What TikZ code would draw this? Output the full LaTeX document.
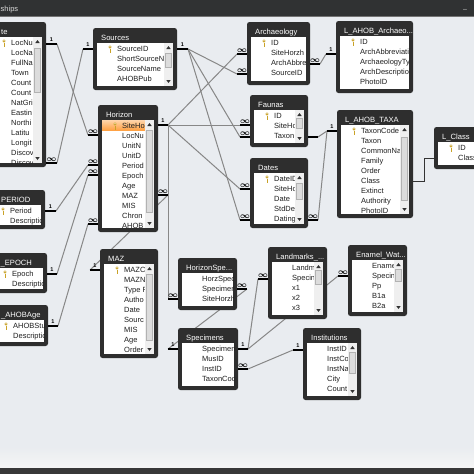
\documentclass[tikz,border=0pt]{standalone}
\usepackage{fontspec}
\setmainfont{Liberation Sans}
\usepackage{tikz}
\usetikzlibrary{calc}
\definecolor{canvas}{HTML}{E9ECF0}
\definecolor{winbar}{HTML}{303233}
\definecolor{framegray}{HTML}{2E2E2E}
\definecolor{linegray}{HTML}{878787}
\definecolor{keygold}{HTML}{C9A227}
\definecolor{trackgray}{HTML}{EFEFEF}
\definecolor{thumbgray}{HTML}{DCDCDC}
\tikzset{
  tabframe/.style={fill=framegray, rounded corners=2.5pt, inner sep=0pt, outer sep=0pt},
  tabtitle/.style={anchor=base west, inner sep=0pt, text=white, font=\fontsize{7.6}{8}\selectfont},
  fieldtxt/.style={anchor=base west, inner sep=0pt, text=black!88, font=\fontsize{7.5}{8}\selectfont},
  relline/.style={linegray, line width=1pt},
  relbar/.style={black, line width=1.8pt},
  relone/.style={midway, above=1.2pt, inner sep=0pt, font=\fontsize{5.5}{6}\selectfont\bfseries},
  relmany/.style={midway, above=0.4pt, inner sep=0pt, font=\fontsize{8.5}{8}\selectfont\boldmath},
  classline/.style={black!80, line width=0.9pt}
}
% table frame: [title offset] name, x, y, width, height, title
\newcommand{\dbframe}[6][8]{%
  \node[tabframe, minimum width=#5pt, minimum height=#6pt, anchor=north west] (#2) at (#3,#4) {};
  \fill[white] (#3+4,#4+15) rectangle (#3+#5-4,#4+#6-4);
  \node[tabtitle] (#2-title) at (#3+#1,#4+12.5) {\dbtitle};
}
\newcommand{\dbtitle}{}
% field list: name, x, y, width, height, fields
\newcommand{\dbfields}[6]{%
  \begin{scope}
    \clip (#2+4,#3+15) rectangle (#2+#4-4,#3+#5-4);
    \foreach \fname [count=\i] in {#6}
      \node[fieldtxt] (#1-\i) at (#2+24,#3+13.6+10*\i) {\fname};
  \end{scope}
}
% scroll bar: x, top, bottom, thumb top, thumb bottom
\newcommand{\vscroll}[5]{%
  \fill[trackgray] (#1,#2) rectangle (#1+9,#3);
  \filldraw[fill=thumbgray, draw=black!30, line width=0.4pt] (#1+1.5,#4) rectangle (#1+7.5,#5);
  \fill[black!80] (#1+2.3,#2+6) -- (#1+6.7,#2+6) -- (#1+4.5,#2+3) -- cycle;
  \fill[black!80] (#1+2.3,#3-6) -- (#1+6.7,#3-6) -- (#1+4.5,#3-3) -- cycle;
}
% primary key glyph in front of a field
\newcommand{\keyicon}[1]{%
  \begin{scope}[shift={([xshift=-7pt,yshift=2.6pt]#1.base west)}]
    \fill[keygold] (0,-2) circle (1.7pt);
    \fill[white] (0,-2.2) circle (0.6pt);
    \draw[keygold, line width=0.9pt] (0,-0.5) -- (0,3.5);
    \draw[keygold, line width=0.7pt] (0,2.6) -- (1.3,2.6);
  \end{scope}
}

\begin{document}
\begin{tikzpicture}[x=1pt,y=-1pt]
\useasboundingbox (0,0) rectangle (474,474);
\clip (0,0) rectangle (474,474);

% window
\fill[canvas] (0,0) rectangle (474,474);
\fill[winbar] (0,0) rectangle (474,16);
\draw[black!55, line width=0.8pt] (0,16) -- (474,16);
\node[anchor=base west, inner sep=0pt, text=white!85!black, font=\fontsize{7.5}{8}\selectfont] (wintitle) at (0.5,11) {ships};
\node[inner sep=0pt, text=white!80!black, font=\fontsize{7}{8}\selectfont] (winmin) at (465,10) {\textendash};
\shade[top color=canvas, bottom color=white!96!black] (0,447) rectangle (474,467);
\fill[black!78] (0,468) rectangle (474,474);

% ends of the relationship lines
\coordinate (siteA) at (57,44);
\coordinate (siteB) at (57,163);
\coordinate (srcA) at (83,49);
\coordinate (srcB) at (188,49);
\coordinate (horA) at (88,135);
\coordinate (horB) at (88,165);
\coordinate (horC) at (88,175);
\coordinate (horD) at (88,224);
\coordinate (horE) at (168,125);
\coordinate (horF) at (168,195);
\coordinate (perA) at (56,211);
\coordinate (epoA) at (57,274);
\coordinate (ageA) at (58,326);
\coordinate (mazA) at (90,270);
\coordinate (archA) at (237,54);
\coordinate (archB) at (237,74);
\coordinate (archC) at (320,64);
\coordinate (larchA) at (326,54);
\coordinate (fauA) at (240,125);
\coordinate (fauB) at (240,137);
\coordinate (fauC) at (318,137);
\coordinate (datA) at (240,189);
\coordinate (datB) at (240,220);
\coordinate (datC) at (318,220);
\coordinate (taxA) at (327,131);
\coordinate (clsbend) at (424,158);
\coordinate (hspA) at (168,299);
\coordinate (hspB) at (247,289);
\coordinate (speA) at (168,349);
\coordinate (speB) at (248,349);
\coordinate (speC) at (248,369);
\coordinate (lanA) at (258,279);
\coordinate (enaA) at (338,276);
\coordinate (insA) at (293,350);

% relationship lines (under the tables)
\draw[relline] (siteA) -- (horA);
\draw[relline] (srcA) -- (siteB);
\draw[relline] (perA) -- (horB);
\draw[relline] (epoA) -- (horC);
\draw[relline] (ageA) -- (horD);
\draw[relline] (srcB) -- (archB);
\draw[relline] (srcB) -- (fauB);
\draw[relline] (srcB) -- (datB);
\draw[relline] (horE) -- (archA);
\draw[relline] (horE) -- (fauA);
\draw[relline] (horE) -- (datA);
\draw[relline] (horE) -- (hspA);
\draw[relline] (horF) -- (mazA);
\draw[relline] (archC) -- (larchA);
\draw[relline] (fauC) -- (taxA);
\draw[relline] (datC) -- (taxA);
\draw[relline] (hspB) -- (speA);
\draw[relline] (speB) -- (lanA);
\draw[relline] (speB) -- (enaA);
\draw[relline] (speC) -- (insA);

% tables
\renewcommand{\dbtitle}{te}
\dbframe[14]{site}{-13}{22}{59}{145}
\dbfields{site}{-13}{22}{59}{145}{LocNu, LocNa, FullNa, Town, Count, Count, NatGri, Eastin, Northi, Latitu, Longit, Discov, Discov}
\vscroll{33}{37}{163}{48}{92}
\keyicon{site-1}

\renewcommand{\dbtitle}{Sources}
\dbframe{sources}{93}{28}{84}{62}
\dbfields{sources}{93}{28}{84}{62}{SourceID, ShortSourceN, SourceName, AHOBPub}
\vscroll{164}{43}{86}{53}{67}
\keyicon{sources-1}

\renewcommand{\dbtitle}{Horizon}
\dbframe{horizon}{98}{105}{60}{127}
\shade[top color=orange!35, bottom color=orange!75] (102,120.5) rectangle (145,130.5); % selected row
\dbfields{horizon}{98}{105}{60}{127}{SiteHo, LocNu, UnitN, UnitD, Period, Epoch, Age, MAZ, MIS, Chron, AHOB}
\vscroll{145}{120}{228}{130}{212}
\keyicon{horizon-1}

\renewcommand{\dbtitle}{PERIOD}
\dbframe[15]{period}{-14}{190}{59}{39}
\dbfields{period}{-14}{190}{59}{39}{Period, Descriptio}
\keyicon{period-1}

\renewcommand{\dbtitle}{\_EPOCH}
\dbframe[12.5]{epoch}{-12}{253}{59}{40}
\dbfields{epoch}{-12}{253}{59}{40}{Epoch, Descriptio}
\keyicon{epoch-1}

\renewcommand{\dbtitle}{\_AHOBAge}
\dbframe[12]{ahobage}{-11}{305}{59}{41}
\dbfields{ahobage}{-11}{305}{59}{41}{AHOBStu, Descriptio}
\keyicon{ahobage-1}

\renewcommand{\dbtitle}{MAZ}
\dbframe{maz}{100}{249}{58}{109}
\dbfields{maz}{100}{249}{58}{109}{MAZC, MAZN, Type F, Autho, Date, Sourc, MIS, Age, Order}
\vscroll{145}{264}{354}{274}{340}
\keyicon{maz-1}

\renewcommand{\dbtitle}{HorizonSpe...}
\dbframe{hspec}{178}{258}{59}{52}
\dbfields{hspec}{178}{258}{59}{52}{HorzSpec, Specimen, SiteHorzh}

\renewcommand{\dbtitle}{Specimens}
\dbframe{specimens}{178}{328}{60}{62}
\dbfields{specimens}{178}{328}{60}{62}{Specimen, MusID, InstID, TaxonCod}

\renewcommand{\dbtitle}{Landmarks\_...}
\dbframe{landmarks}{268}{247}{59}{72}
\dbfields{landmarks}{268}{247}{59}{72}{Landm, Specin, x1, x2, x3}
\vscroll{314}{262}{315}{270}{284}

\renewcommand{\dbtitle}{Enamel\_Wat...}
\dbframe{enamel}{348}{245}{59}{71}
\dbfields{enamel}{348}{245}{59}{71}{Ename, Specin, Pp, B1a, B2a}
\vscroll{394}{260}{312}{269}{281}

\renewcommand{\dbtitle}{Institutions}
\dbframe{inst}{303}{328}{58}{72}
\dbfields{inst}{303}{328}{58}{72}{InstID, InstCo, InstNa, City, Count}
\vscroll{348}{343}{396}{352}{373}

\renewcommand{\dbtitle}{Archaeology}
\dbframe{arch}{247}{22}{63}{63}
\dbfields{arch}{247}{22}{63}{63}{ID, SiteHorzh, ArchAbbre, SourceID}
\keyicon{arch-1}

\renewcommand{\dbtitle}{L\_AHOB\_Archaeo...}
\dbframe{larch}{336}{21}{77}{72}
\dbfields{larch}{336}{21}{77}{72}{ID, ArchAbbreviati, ArchaeologyTy, ArchDescriptio, PhotoID}
\keyicon{larch-1}

\renewcommand{\dbtitle}{Faunas}
\dbframe{faunas}{250}{95}{58}{52}
\dbfields{faunas}{250}{95}{58}{52}{ID, SiteHo, Taxon}
\vscroll{295}{110}{143}{118}{128}
\keyicon{faunas-1}

\renewcommand{\dbtitle}{Dates}
\dbframe{dates}{250}{158}{58}{70}
\dbfields{dates}{250}{158}{58}{70}{DateID, SiteHo, Date, StdDe, Dating}
\vscroll{295}{173}{224}{183}{199}
\keyicon{dates-1}

\renewcommand{\dbtitle}{L\_AHOB\_TAXA}
\dbframe{taxa}{337}{110}{76}{108}
\dbfields{taxa}{337}{110}{76}{108}{TaxonCode, Taxon, CommonNa, Family, Order, Class, Extinct, Authority, PhotoID}
\vscroll{400}{125}{214}{137}{200}
\keyicon{taxa-1}

\renewcommand{\dbtitle}{L\_Class}
\dbframe{lclass}{434}{127}{50}{42}
\dbfields{lclass}{434}{127}{50}{42}{ID, Class}
\keyicon{lclass-1}

% join markers at the table edges
\draw[relbar] (site.east |- siteA) -- (siteA) node[relone] {1};
\draw[relbar] (site.east |- siteB) -- (siteB) node[relmany] {$\infty$};
\draw[relbar] (sources.west |- srcA) -- (srcA) node[relone] {1};
\draw[relbar] (sources.east |- srcB) -- (srcB) node[relone] {1};
\draw[relbar] (horizon.west |- horA) -- (horA) node[relmany] {$\infty$};
\draw[relbar] (horizon.west |- horB) -- (horB) node[relmany] {$\infty$};
\draw[relbar] (horizon.west |- horC) -- (horC) node[relmany] {$\infty$};
\draw[relbar] (horizon.west |- horD) -- (horD) node[relmany] {$\infty$};
\draw[relbar] (horizon.east |- horE) -- (horE) node[relone] {1};
\draw[relbar] (horizon.east |- horF) -- (horF) node[relmany] {$\infty$};
\draw[relbar] (period.east |- perA) -- (perA) node[relone] {1};
\draw[relbar] (epoch.east |- epoA) -- (epoA) node[relone] {1};
\draw[relbar] (ahobage.east |- ageA) -- (ageA) node[relone] {1};
\draw[relbar] (maz.west |- mazA) -- (mazA) node[relone] {1};
\draw[relbar] (arch.west |- archA) -- (archA) node[relmany] {$\infty$};
\draw[relbar] (arch.west |- archB) -- (archB) node[relmany] {$\infty$};
\draw[relbar] (arch.east |- archC) -- (archC) node[relmany] {$\infty$};
\draw[relbar] (larch.west |- larchA) -- (larchA) node[relone] {1};
\draw[relbar] (faunas.west |- fauA) -- (fauA) node[relmany] {$\infty$};
\draw[relbar] (faunas.west |- fauB) -- (fauB) node[relmany] {$\infty$};
\draw[relbar] (faunas.east |- fauC) -- (fauC);
\draw[relbar] (dates.west |- datA) -- (datA) node[relmany] {$\infty$};
\draw[relbar] (dates.west |- datB) -- (datB) node[relmany] {$\infty$};
\draw[relbar] (dates.east |- datC) -- (datC) node[relmany] {$\infty$};
\draw[relbar] (taxa.west |- taxA) -- (taxA) node[relone] {1};
\draw[relbar] (hspec.west |- hspA) -- (hspA) node[relmany] {$\infty$};
\draw[relbar] (hspec.east |- hspB) -- (hspB) node[relmany] {$\infty$};
\draw[relbar] (specimens.west |- speA) -- (speA) node[relone] {1};
\draw[relbar] (specimens.east |- speB) -- (speB) node[relone] {1};
\draw[relbar] (specimens.east |- speC) -- (speC) node[relmany] {$\infty$};
\draw[relbar] (landmarks.west |- lanA) -- (lanA) node[relmany] {$\infty$};
\draw[relbar] (enamel.west |- enaA) -- (enaA) node[relmany] {$\infty$};
\draw[relbar] (inst.west |- insA) -- (insA) node[relone] {1};
\draw[classline] (taxa.east |- 0,181) -| (clsbend) -- (lclass.west |- clsbend);
\end{tikzpicture}
\end{document}
